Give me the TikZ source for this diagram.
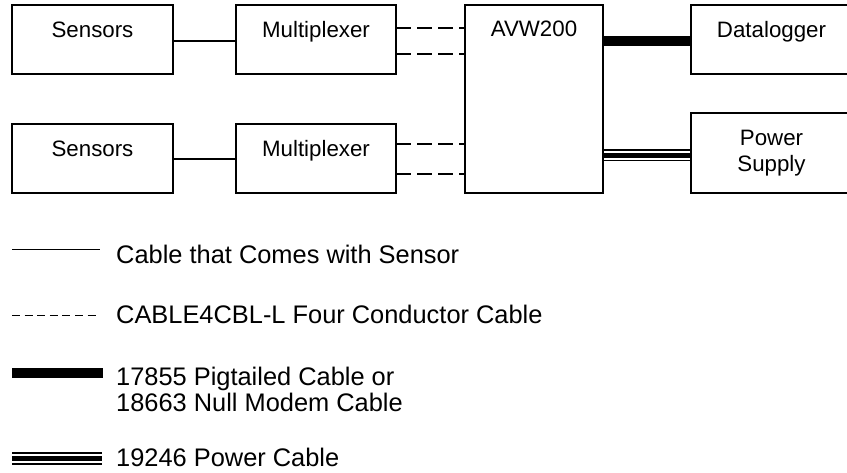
\documentclass[tikz,border=0pt]{standalone}
\usepackage{fontspec}
\setmainfont{Liberation Sans}
\tikzset{
  box/.style={draw,line width=2pt,inner sep=0pt,outer sep=0pt},
  boxtext/.style={inner sep=0pt,anchor=base,font=\fontsize{22.3}{26}\selectfont},
  legtext/.style={inner sep=0pt,anchor=base west,align=left,font=\fontsize{25.4}{26}\selectfont},
  sensorcable/.style={line width=1.4pt},
  fourcable/.style={line width=2pt,dash pattern=on 15pt off 6pt},
  pigcable/.style={line width=10pt},
  legsensor/.style={line width=1pt},
  legfour/.style={line width=1pt,dash pattern=on 8pt off 4.6pt},
}
\begin{document}
\begin{tikzpicture}[x=1pt,y=-1pt]
\useasboundingbox (0,0) rectangle (847,472);
% boxes
\node[box,minimum width=161pt,minimum height=69pt] (s1) at (92.5,39.5) {};
\node[box,minimum width=160pt,minimum height=69pt] (m1) at (316,39.5) {};
\node[box,minimum width=161pt,minimum height=69pt] (s2) at (92.5,158.5) {};
\node[box,minimum width=160pt,minimum height=69pt] (m2) at (316,158.5) {};
\node[box,minimum width=138pt,minimum height=188pt] (avw) at (534,99) {};
\node[box,minimum width=161pt,minimum height=69pt] (dl) at (771.5,39.5) {};
\node[box,minimum width=161pt,minimum height=80pt] (ps) at (771.5,153) {};
% texts
\node[boxtext] (s1t) at ([yshift=-32pt]s1.north) {Sensors};
\node[boxtext] (m1t) at ([yshift=-32pt]m1.north) {Multiplexer};
\node[boxtext] (s2t) at ([yshift=-32pt]s2.north) {Sensors};
\node[boxtext] (m2t) at ([yshift=-32pt]m2.north) {Multiplexer};
\node[boxtext] (avwt) at ([yshift=-31pt]avw.north) {AVW200};
\node[boxtext] (dlt) at ([yshift=-32pt]dl.north) {Datalogger};
\node[boxtext,anchor=center,align=center] (pst) at (ps.center) {Power\\Supply};
% sensor cables
\draw[sensorcable] ([yshift=-1.5pt]s1.east) -- ([yshift=-1.5pt]m1.west);
\draw[sensorcable] ([yshift=-0.5pt]s2.east) -- ([yshift=-0.5pt]m2.west);
% four conductor cables
\path ([yshift=11.5pt]m1.east) coordinate (d1)
      ([yshift=-14.5pt]m1.east) coordinate (d2)
      ([yshift=14.5pt]m2.east) coordinate (d3)
      ([yshift=-15.5pt]m2.east) coordinate (d4);
\draw[fourcable] (d1) -- (d1 -| avw.west);
\draw[fourcable] (d2) -- (d2 -| avw.west);
\draw[fourcable] (d3) -- (d3 -| avw.west);
\draw[fourcable] (d4) -- (d4 -| avw.west);
% pigtailed cable
\path ([yshift=-1.5pt]dl.west) coordinate (p1);
\draw[pigcable] (p1 -| avw.east) -- (p1);
% power cable
\path ([yshift=3.5pt]ps.west) coordinate (q1)
      ([yshift=-2pt]ps.west) coordinate (q2)
      ([yshift=-7.5pt]ps.west) coordinate (q3);
\draw[line width=2pt] (q1 -| avw.east) -- (q1);
\draw[line width=5pt] (q2 -| avw.east) -- (q2);
\draw[line width=1.7pt] (q3 -| avw.east) -- (q3);
% legend
\coordinate (la1) at (12,249); \coordinate (lb1) at (100,249);
\draw[legsensor] (la1) -- (lb1);
\node[legtext] (lt1) at (116,263) {Cable that Comes with Sensor};
\coordinate (la2) at (12,315); \coordinate (lb2) at (100,315);
\draw[legfour] (la2) -- (lb2);
\node[legtext] (lt2) at (116,323) {CABLE4CBL-L Four Conductor Cable};
\coordinate (la3) at (12,373); \coordinate (lb3) at (103,373);
\draw[pigcable] (la3) -- (lb3);
\node[legtext] (lt3) at (116,385) {17855 Pigtailed Cable or};
\node[legtext] (lt3b) at (116,411) {18663 Null Modem Cable};
\coordinate (la4) at (12,453) ; \coordinate (lb4) at (102,453);
\coordinate (la5) at (12,458.5); \coordinate (lb5) at (102,458.5);
\coordinate (la6) at (12,464); \coordinate (lb6) at (102,464);
\draw[line width=2pt] (la4) -- (lb4);
\draw[line width=5pt] (la5) -- (lb5);
\draw[line width=1.7pt] (la6) -- (lb6);
\node[legtext] (lt4) at (116,466) {19246 Power Cable};
\end{tikzpicture}
\end{document}
